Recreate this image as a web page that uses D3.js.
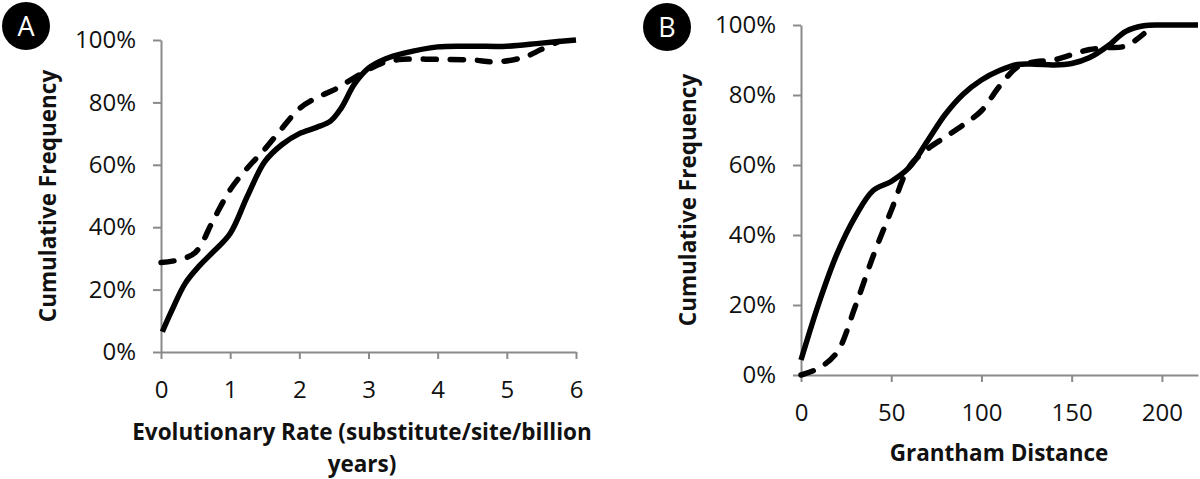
<!DOCTYPE html>
<meta charset="utf-8">
<script src="https://d3js.org/d3.v7.min.js"></script>
<title>Cumulative Frequency</title>
<style>
  body { margin: 0; background: white; }
  svg { display: block; }
  .tick text { font-family: "Open Sans", sans-serif; fill: #111; }
  .ttl { font-family: "Open Sans", sans-serif; font-weight: bold; fill: #111; }
</style>
<body>
<div id="chart"></div>
<script>
// panel A - evolutionary rate
var rateSolidX  = [0.02, 0.15, 0.35, 0.55, 0.75, 1.0, 1.25, 1.5, 1.75, 2.0, 2.25, 2.45, 2.6, 2.8, 3.0, 3.25, 3.5, 4.0, 4.5, 5.0, 5.5, 6.0];
var rateSolidY  = [6.5, 13, 22, 27.5, 32, 38, 50, 61, 66.5, 70, 72, 74, 78, 86, 91, 94, 95.7, 97.8, 98, 98, 99, 100];
var rateDashX   = [0, 0.25, 0.5, 0.75, 1.0, 1.25, 1.5, 1.75, 2.0, 2.25, 2.5, 2.75, 3.0, 3.25, 3.5, 4.0, 4.5, 4.85, 5.25, 5.5, 5.75];
var rateDashY   = [28.7, 29.5, 32, 42, 52, 59, 65, 71.7, 78, 81.5, 84, 87.3, 90.5, 93, 93.8, 93.8, 93.6, 93, 94.5, 97, 99.5];
var rateTicks   = [0, 1, 2, 3, 4, 5, 6];

// panel B - grantham distance
var granSolidX  = [0, 10, 20, 30, 40, 50, 60, 70, 80, 90, 100, 110, 120, 130, 140, 150, 160, 170, 180, 190, 200, 220];
var granSolidY  = [4.3, 20.7, 34.7, 45.2, 52.7, 55.3, 59.3, 66.8, 74.5, 80.3, 84.3, 87, 88.7, 88.8, 88.6, 89, 90.7, 94, 98.2, 99.8, 100, 100];
var granDashX   = [0, 10, 20, 30, 40, 50, 60, 70, 80, 90, 100, 110, 120, 130, 140, 150, 160, 170, 180, 190];
var granDashY   = [0, 2, 6.5, 19.5, 34, 47, 59.5, 64.5, 68, 71.5, 75.5, 82.5, 88, 89.5, 90, 91.5, 93, 93.5, 94, 97.5];
var granTicks   = [0, 50, 100, 150, 200];

var pctTicks    = [0, 20, 40, 60, 80, 100];

var svg = d3.select("#chart").append("svg")
    .attr("width", 1200)
    .attr("height", 479);

function zip(xs, ys) {
  return xs.map(function(x, i) { return [x, ys[i]]; });
}

function panel(opt) {
  var x = d3.scaleLinear().domain(opt.xDomain).range(opt.xRange);
  var y = d3.scaleLinear().domain([0, 100]).range(opt.yRange);

  var yAxis = svg.append("g")
      .attr("transform", "translate(" + opt.xRange[0] + ",0)")
      .call(d3.axisLeft(y).tickValues(pctTicks).tickSize(8).tickSizeOuter(0).tickPadding(17)
        .tickFormat(function(d) { return d + "%"; }));
  var xAxis = svg.append("g")
      .attr("transform", "translate(0," + opt.yRange[0] + ")")
      .call(d3.axisBottom(x).tickValues(opt.ticks).tickSize(7).tickSizeOuter(0).tickPadding(22)
        .tickFormat(d3.format("d")));

  [xAxis, yAxis].forEach(function(a) {
    a.select(".domain").attr("stroke", "#8a8a8a").attr("stroke-width", 2);
    a.selectAll(".tick line").attr("stroke", "#8a8a8a").attr("stroke-width", 2);
    a.selectAll(".tick text").style("font-size", "24px");
  });

  var line = d3.line()
      .x(function(d) { return x(d[0]); })
      .y(function(d) { return y(d[1]); })
      .curve(d3.curveCatmullRom.alpha(0.5));

  svg.append("path")
      .datum(zip(opt.dashX, opt.dashY))
      .attr("fill", "none")
      .attr("stroke", "#000")
      .attr("stroke-width", 5.5)
      .attr("stroke-linecap", "round")
      .attr("stroke-dasharray", "13,14")
      .attr("d", line);

  svg.append("path")
      .datum(zip(opt.solidX, opt.solidY))
      .attr("fill", "none")
      .attr("stroke", "#000")
      .attr("stroke-width", 5.5)
      .attr("stroke-linejoin", "round")
      .attr("d", line);

  var midY = (opt.yRange[0] + opt.yRange[1]) / 2;
  svg.append("text")
      .attr("class", "ttl")
      .attr("text-anchor", "middle")
      .attr("transform", "translate(" + opt.yTitleX + "," + midY + ")rotate(-90)")
      .style("font-size", "22.5px")
      .text("Cumulative Frequency");

  var xt = svg.append("text")
      .attr("class", "ttl")
      .attr("text-anchor", "middle")
      .style("font-size", "22.5px");
  opt.xTitle.forEach(function(t, i) {
    xt.append("tspan")
      .attr("x", opt.xTitleX)
      .attr("y", opt.xTitleY + i * 32)
      .text(t);
  });

  svg.append("circle")
      .attr("cx", opt.badge[0]).attr("cy", opt.badge[1]).attr("r", 24)
      .attr("fill", "#000");
  svg.append("text")
      .attr("x", opt.badge[0]).attr("y", opt.badge[1] + 10)
      .attr("text-anchor", "middle")
      .attr("fill", "#fff")
      .style("font-family", "'Open Sans', sans-serif")
      .style("font-size", "27px")
      .text(opt.letter);
}

panel({
  xDomain: [0, 6], xRange: [161, 576], yRange: [352, 40],
  ticks: rateTicks,
  solidX: rateSolidX, solidY: rateSolidY, dashX: rateDashX, dashY: rateDashY,
  yTitleX: 56,
  xTitle: ["Evolutionary Rate (substitute/site/billion", "years)"], xTitleX: 362, xTitleY: 440,
  badge: [26, 26], letter: "A"
});

panel({
  xDomain: [0, 220], xRange: [801, 1198], yRange: [375, 25],
  ticks: granTicks,
  solidX: granSolidX, solidY: granSolidY, dashX: granDashX, dashY: granDashY,
  yTitleX: 696,
  xTitle: ["Grantham Distance"], xTitleX: 999, xTitleY: 461,
  badge: [667, 27], letter: "B"
});
</script>
</body>
